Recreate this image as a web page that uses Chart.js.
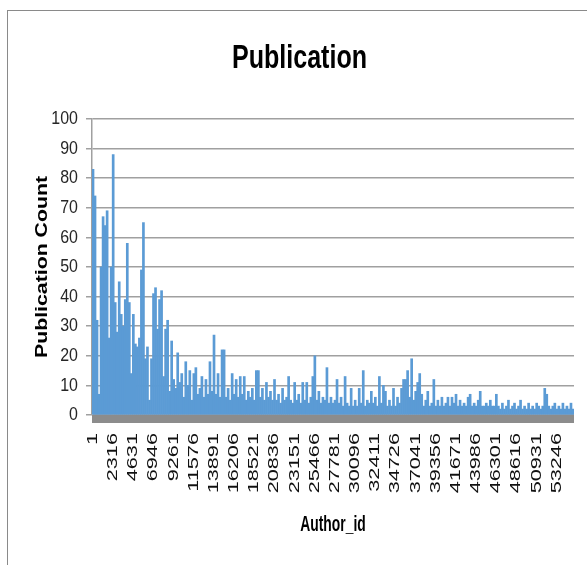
<!DOCTYPE html>
<html>
<head>
<meta charset="utf-8">
<script src="https://cdn.jsdelivr.net/npm/chart.js@4.4.1/dist/chart.umd.min.js"></script>
<style>
  html, body { margin: 0; padding: 0; background: #ffffff; width: 587px; height: 565px; overflow: hidden; }
  #frame { position: absolute; left: 7px; top: 10px; width: 700px; height: 700px; border-left: 1.5px solid #8a8a8a; border-top: 1.5px solid #8a8a8a; }
  #c { position: absolute; left: 0; top: 0; }
</style>
</head>
<body>
<div id="frame"></div>
<canvas id="c" width="587" height="565"></canvas>
<script>
// Chart texts
const chartTitle = 'Publication';
const xTitle = 'Author_id';
const yTitle = 'Publication Count';

// Tick labels shown on the x axis (Author_id)
const tickLabels = ['1','2316','4631','6946','9261','11576','13891','16206','18521','20836','23151','25466',
  '27781','30096','32411','34726','37041','39356','41671','43986','46301','48616','50931','53246'];

// Publication counts (each bar = one group of author ids)
const publicationCounts = [
  83,74,32,7,50,67,64,69,26,50, 88,38,28,45,34,30,39,58,38,14,
  34,24,23,26,49,65,19,23,5,19, 41,43,29,39,42,13,29,32,8,25,
  12,9,21,11,14,6,18,10,15,5, 14,16,7,9,13,6,12,7,18,8,
  27,7,14,6,22,22,6,9,5,14, 7,12,6,13,7,13,5,8,6,9,
  5,15,15,6,9,5,11,6,8,5, 12,5,7,4,9,5,6,13,5,4,
  11,5,7,4,11,5,11,4,6,13, 20,5,8,4,6,5,16,4,6,4,
  5,12,4,6,3,13,4,3,9,3, 5,3,9,4,15,3,5,4,8,4,
  6,3,13,4,10,8,3,5,3,9, 3,6,4,9,12,12,15,6,19,5,
  8,11,14,7,3,5,8,3,4,12, 3,5,3,6,3,4,6,3,6,4,
  7,3,5,3,4,3,6,7,3,4, 3,5,8,3,3,4,3,5,3,3,
  7,3,2,4,2,3,5,2,3,4, 2,3,5,2,3,2,4,2,3,2,
  4,3,2,3,9,7,3,2,3,4, 2,3,2,4,2,3,2,4,2
];

const labelEvery = 10;
const categories = publicationCounts.map((v, i) => (i % labelEvery === 0 && tickLabels[i / labelEvery] !== undefined) ? tickLabels[i / labelEvery] : '');

const yTicks = { min: 0, max: 100, step: 10 };

const FONT = "'Liberation Sans', Arial, sans-serif";

function drawText(ctx, text, x, y, opt) {
  ctx.save();
  ctx.translate(x, y);
  if (opt.rotate) ctx.rotate(opt.rotate);
  ctx.scale(opt.sx || 1, 1);
  ctx.font = opt.font;
  ctx.fillStyle = opt.color || '#000';
  ctx.textAlign = opt.align || 'center';
  ctx.textBaseline = opt.baseline || 'alphabetic';
  ctx.fillText(text, 0, 0);
  ctx.restore();
}

const decorations = {
  id: 'decorations',
  afterDatasetsDraw(chart) {
    const { ctx, chartArea, scales } = chart;
    const y0 = scales.y.getPixelForValue(0);
    ctx.save();
    ctx.fillStyle = '#8c8c8c';
    ctx.fillRect(chartArea.left, y0, chartArea.right - chartArea.left, 8);
    ctx.restore();
  },
  afterDraw(chart) {
    const { ctx, chartArea, scales } = chart;
    // main title
    drawText(ctx, chartTitle, 299.5, 68, { font: `bold 33px ${FONT}`, sx: 0.76 });
    // y tick labels
    scales.y.ticks.forEach(t => {
      const y = scales.y.getPixelForValue(t.value);
      drawText(ctx, String(t.value), chartArea.left - 14, y, { font: `19px ${FONT}`, sx: 0.84, align: 'right', baseline: 'middle', color: '#262626' });
    });
    // x tick labels
    categories.forEach((lab, i) => {
      if (!lab) return;
      const x = scales.x.getPixelForValue(i);
      drawText(ctx, lab, x, chartArea.bottom + 18, { font: `14px ${FONT}`, sx: 1.55, rotate: -Math.PI / 2, align: 'right', baseline: 'middle', color: '#111' });
    });
    // axis titles
    drawText(ctx, xTitle, (chartArea.left + chartArea.right) / 2, 531, { font: `bold 22px ${FONT}`, sx: 0.63 });
    drawText(ctx, yTitle, 42.5, (chartArea.top + chartArea.bottom) / 2, { font: `bold 16px ${FONT}`, sx: 1.33, rotate: -Math.PI / 2, baseline: 'middle' });
  }
};

new Chart(document.getElementById('c'), {
  type: 'bar',
  data: {
    labels: categories,
    datasets: [{
      label: yTitle,
      data: publicationCounts,
      backgroundColor: '#5b9bd5',
      borderWidth: 0,
      barPercentage: 1.0,
      categoryPercentage: 1.0
    }]
  },
  options: {
    responsive: false,
    animation: false,
    devicePixelRatio: 1,
    layout: { padding: { left: 0, right: 13, top: 119, bottom: 0 } },
    plugins: {
      legend: { display: false },
      tooltip: { enabled: false },
      title: { display: false }
    },
    scales: {
      x: {
        type: 'category',
        grid: { display: false, drawTicks: false },
        border: { display: false },
        ticks: { display: false, autoSkip: false },
        afterFit(scale) { scale.height = 150; }
      },
      y: {
        min: yTicks.min,
        max: yTicks.max,
        grid: { color: '#a0a0a0', lineWidth: 1.5, drawTicks: true, tickLength: 6 },
        border: { display: true, color: '#a0a0a0', width: 1.5 },
        ticks: { display: false, stepSize: yTicks.step },
        afterFit(scale) { scale.width = 92; }
      }
    }
  },
  plugins: [decorations]
});
</script>
</body>
</html>
